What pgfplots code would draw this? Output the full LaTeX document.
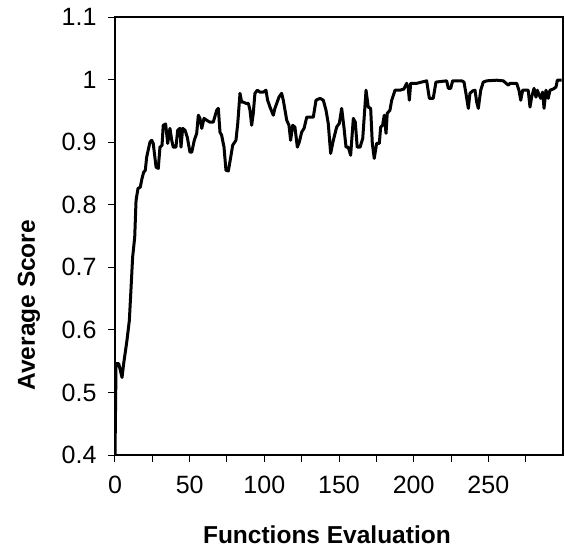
\documentclass[border=0pt]{standalone}
\usepackage{fontspec}
\setmainfont{Liberation Sans}
\usepackage{pgfplots}
\pgfplotsset{compat=1.18}

\begin{document}
\begin{tikzpicture}
\path[use as bounding box] (-115pt,-95pt) rectangle (450pt,455pt);
\begin{axis}[
  scale only axis,
  width=448pt, height=438pt,
  xmin=0, xmax=300,
  ymin=0.4, ymax=1.1,
  xtick={0,50,...,250},
  minor xtick={25,75,...,300},
  ytick={0.4,0.5,...,1.1},
  yticklabels={0.4,0.5,0.6,0.7,0.8,0.9,1,1.1},
  tick pos=left,
  tick align=outside,
  major tick length=7pt,
  minor tick length=7pt,
  every tick/.style={black, line width=1pt},
  axis line style={line width=1.6pt},
  /pgf/number format/assume math mode=true,
  tick label style={font=\fontsize{25}{28}\selectfont},
  xticklabel style={yshift=-11pt},
  yticklabel style={xshift=-8pt},
  xlabel={Functions Evaluation},
  ylabel={Average Score},
  label style={font=\bfseries\fontsize{24.5}{28}\selectfont},
  xlabel style={at={(axis description cs:0.473,-0.202)}, anchor=base},
  ylabel style={at={(axis description cs:-0.192,0.342)}, anchor=center},
]
\addplot[black, line width=3pt, line join=round] table {
x y
0 0.400
0.7 0.546
2.5 0.546
4.7 0.524
5.8 0.546
8.0 0.583
9.6 0.615
10.9 0.674
11.8 0.716
13.2 0.748
14.1 0.807
15.4 0.826
16.9 0.828
18.1 0.842
19.2 0.852
20.3 0.855
21.2 0.876
23.4 0.900
24.6 0.903
25.6 0.898
27.5 0.860
29.0 0.858
30.1 0.892
31.5 0.895
32.3 0.927
33.9 0.929
35.3 0.898
36.8 0.922
38.0 0.903
39.0 0.892
40.8 0.892
42.0 0.919
43.5 0.922
44.2 0.892
45.3 0.922
46.9 0.919
48.4 0.908
50.2 0.884
51.4 0.884
53.1 0.903
54.7 0.914
55.8 0.943
56.9 0.938
58.1 0.922
59.6 0.938
61.4 0.935
63.6 0.932
65.8 0.932
68.1 0.951
69.2 0.954
70.3 0.916
71.4 0.911
73.0 0.892
74.3 0.855
75.9 0.854
77.5 0.876
78.8 0.895
81.0 0.903
82.2 0.930
83.7 0.978
84.8 0.964
85.9 0.964
87.7 0.962
89.3 0.962
90.4 0.951
91.5 0.927
92.6 0.946
93.7 0.978
95.3 0.983
97.1 0.980
99.3 0.980
101.1 0.983
102.2 0.967
103.8 0.956
106.0 0.943
107.1 0.954
108.3 0.962
109.8 0.972
111.6 0.978
112.7 0.967
115.0 0.935
116.5 0.927
117.6 0.903
119.0 0.927
120.5 0.924
122.1 0.892
123.4 0.900
125.0 0.916
126.6 0.922
128.4 0.940
130.6 0.940
132.8 0.940
134.6 0.967
137.3 0.970
139.5 0.967
141.3 0.951
142.8 0.930
144.4 0.882
146.2 0.903
148.4 0.924
150.2 0.930
151.8 0.954
153.3 0.924
154.7 0.892
156.2 0.892
157.8 0.879
159.6 0.938
160.9 0.932
162.2 0.892
164.1 0.892
165.9 0.906
168.1 0.983
169.6 0.956
171.2 0.954
172.3 0.898
173.6 0.874
175.2 0.898
177.0 0.898
177.9 0.924
179.2 0.927
180.3 0.943
181.5 0.914
182.3 0.946
184.1 0.951
185.3 0.967
187.5 0.983
190.8 0.983
193.5 0.985
195.3 0.994
196.4 0.986
197.1 0.967
198.0 0.994
202.0 0.994
208.7 0.998
210.5 0.970
213.1 0.970
214.9 0.996
222.1 0.998
223.2 0.986
224.8 0.986
226.1 0.998
232.2 0.998
233.7 0.996
235.0 0.978
236.6 0.954
237.7 0.978
239.5 0.982
241.1 0.983
242.2 0.964
243.3 0.954
244.9 0.983
246.6 0.996
248.9 0.998
255.6 0.999
260.0 0.998
263.4 0.991
264.5 0.994
269.0 0.994
270.5 0.983
271.7 0.967
273.0 0.983
276.7 0.983
277.9 0.956
279.0 0.972
280.6 0.986
281.9 0.972
282.8 0.983
284.1 0.975
285.1 0.970
286.4 0.980
287.3 0.954
288.6 0.983
290.1 0.970
291.3 0.983
293.5 0.985
295.3 0.988
296.2 0.999
299.1 0.999
};
\end{axis}
\end{tikzpicture}
\end{document}
